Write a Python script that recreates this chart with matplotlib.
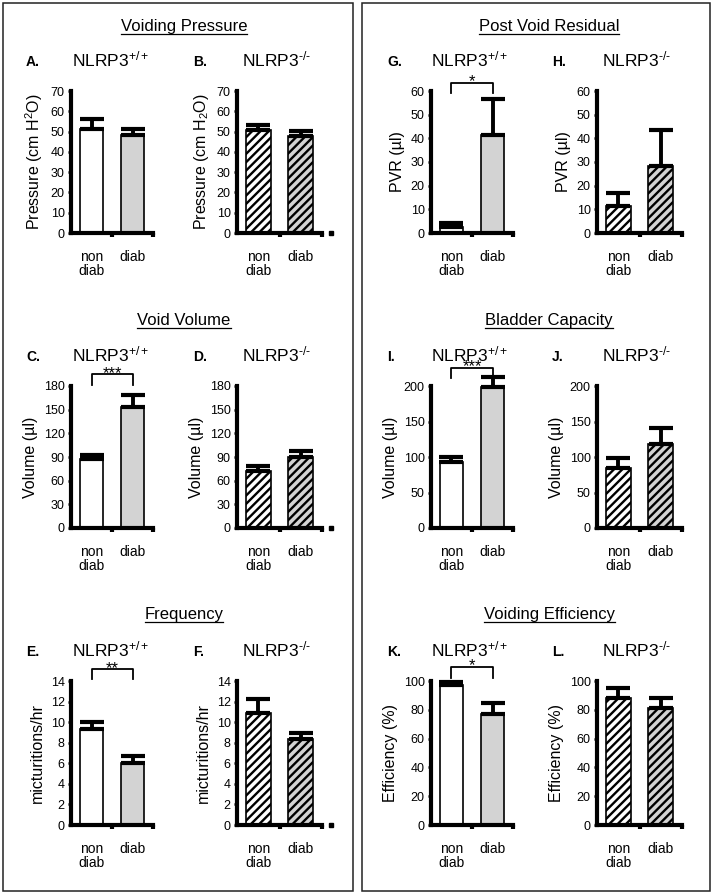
import numpy as np
import matplotlib.pyplot as plt
from matplotlib.lines import Line2D
from matplotlib.patches import Rectangle

plt.rcParams['font.family'] = ['Liberation Sans', 'DejaVu Sans']
plt.rcParams['mathtext.fontset'] = 'custom'
plt.rcParams['mathtext.rm'] = 'Liberation Sans'
plt.rcParams['mathtext.it'] = 'Liberation Sans:italic'
plt.rcParams['mathtext.bf'] = 'Liberation Sans:bold'
plt.rcParams['mathtext.default'] = 'regular'
plt.rcParams['hatch.linewidth'] = 1.7
plt.rcParams['hatch.color'] = 'black'

# ---------- данные ----------
groups = ['non\ndiab', 'diab']
wt_label = 'NLRP3$^{+/+}$'
ko_label = 'NLRP3$^{\\text{-/-}}$'

pressure_wt = [51.5, 48.3]
pressure_wt_err = [4.6, 3.2]
pressure_ko = [50.8, 47.8]
pressure_ko_err = [2.5, 2.5]

volume_wt = [88, 154]
volume_wt_err = [4.5, 14]
volume_ko = [72, 90]
volume_ko_err = [6.5, 7]

freq_wt = [9.3, 6.0]
freq_wt_err = [0.7, 0.7]
freq_ko = [10.9, 8.4]
freq_ko_err = [1.35, 0.5]

pvr_wt = [2.5, 41.2]
pvr_wt_err = [1.6, 15.5]
pvr_ko = [11.3, 28.5]
pvr_ko_err = [5.5, 15.2]

capacity_wt = [93, 198]
capacity_wt_err = [6.5, 14]
capacity_ko = [84, 118]
capacity_ko_err = [14, 23]

eff_wt = [97, 77]
eff_wt_err = [2.5, 7.5]
eff_ko = [88, 81]
eff_ko_err = [7, 7]

# (заголовок раздела, подпись оси Y для WT, для KO, макс Y, шаг)
sections = [
    ('Voiding Pressure', 'Pressure (cm H$^{2}$O)', 'Pressure (cm H$_{2}$O)', 70, 10,
     (pressure_wt, pressure_wt_err), (pressure_ko, pressure_ko_err), 'A.', 'B.'),
    ('Void Volume', 'Volume (µl)', 'Volume (µl)', 180, 30,
     (volume_wt, volume_wt_err), (volume_ko, volume_ko_err), 'C.', 'D.'),
    ('Frequency', 'micturitions/hr', 'micturitions/hr', 14, 2,
     (freq_wt, freq_wt_err), (freq_ko, freq_ko_err), 'E.', 'F.'),
    ('Post Void Residual', 'PVR (µl)', 'PVR (µl)', 60, 10,
     (pvr_wt, pvr_wt_err), (pvr_ko, pvr_ko_err), 'G.', 'H.'),
    ('Bladder Capacity', 'Volume (µl)', 'Volume (µl)', 200, 50,
     (capacity_wt, capacity_wt_err), (capacity_ko, capacity_ko_err), 'I.', 'J.'),
    ('Voiding Efficiency', 'Efficiency (%)', 'Efficiency (%)', 100, 20,
     (eff_wt, eff_wt_err), (eff_ko, eff_ko_err), 'K.', 'L.'),
]

# значимость: панель -> (звёзды, низ скобки, верх скобки)
significance = {
    'C.': ('***', 181, 195),
    'E.': ('**', 14.2, 15.15),
    'G.': ('*', 59, 63.5),
    'I.': ('***', 211, 225.5),
    'K.': ('*', 102, 109.8),
}

bar_colors = ['white', '#d3d3d3']

# ---------- геометрия (в пикселях) ----------
W, H = 713, 894
fig = plt.figure(figsize=(W / 100, H / 100), dpi=100)

col_x = [(71, 153), (237, 322), (431, 513), (597, 682)]
row_y = [(233, 91), (528, 386), (825, 681)]
title_base = [31, 325, 619]
head_base = [66.5, 361, 656]
title_cx = [184, 549]
letter_x = [26, 193, 387, 552]
geno_x = [72, 242, 431, 602]


def fx(px):
    return px / W


def fy(py):
    return 1 - py / H


def draw_panel(ax, vals, errs, ymax, step, ylabel, hatched, dot):
    x = np.arange(len(groups))
    for i in range(len(groups)):
        ax.bar(x[i], vals[i], width=0.58, color=bar_colors[i], edgecolor='black',
               linewidth=1.2, hatch='////' if hatched else None, zorder=1)
    eb = ax.errorbar(x, vals, yerr=[np.zeros(len(vals)), errs], fmt='none', ecolor='black',
                     elinewidth=2.8, capsize=8.6, capthick=3, zorder=2)
    # усы не обрезаем по границе оси (панель I выходит за 200)
    for art in list(eb.lines[1]) + list(eb.lines[2]):
        art.set_clip_on(False)
    ax.set_xlim(-0.5, 1.5)
    ax.set_ylim(0, ymax)
    ax.set_yticks(np.arange(0, ymax + step / 2, step))
    ax.set_xticks(x)
    ax.set_xticklabels(groups, fontsize=10, linespacing=1.05)
    ax.set_xticks([0.5, 1.5], minor=True)
    ax.tick_params(axis='x', which='major', length=0, pad=12)
    ax.tick_params(axis='x', which='minor', length=3, width=3, direction='out')
    ax.tick_params(axis='y', labelsize=9, length=2.5, width=1.8, pad=2)
    for s in ['top', 'right']:
        ax.spines[s].set_visible(False)
    for s in ['left', 'bottom']:
        ax.spines[s].set_linewidth(3)
    ax.set_ylabel(ylabel, fontsize=11.5, labelpad=4)
    ax.patch.set_alpha(0)
    if dot:
        ax.plot([1.71], [0], marker='s', ms=2.8, color='black', clip_on=False)


titles = []
for k, sec in enumerate(sections):
    title, ylab_wt, ylab_ko, ymax, step, wt, ko, let_wt, let_ko = sec
    box = k // 3
    row = k % 3
    y0, y1 = row_y[row]
    for j, (data, ylab, let, gl) in enumerate([(wt, ylab_wt, let_wt, wt_label),
                                                (ko, ylab_ko, let_ko, ko_label)]):
        c = box * 2 + j
        x0, x1 = col_x[c]
        ax = fig.add_axes([fx(x0), fy(y0), fx(x1 - x0), (y0 - y1) / H])
        draw_panel(ax, data[0], data[1], ymax, step, ylab, hatched=(j == 1),
                   dot=(j == 1 and box == 0))
        fig.text(fx(letter_x[c]), fy(head_base[row]), let, fontsize=10,
                 fontweight='bold', va='baseline', ha='left')
        fig.text(fx(geno_x[c]), fy(head_base[row]), gl, fontsize=12.5,
                 va='baseline', ha='left')
        if let in significance:
            stars, lo, hi = significance[let]
            ax.plot([0, 0, 1, 1], [lo, hi, hi, lo], color='black', lw=1.3,
                    clip_on=False, zorder=3)
            ax.annotate(stars, xy=(0.5, hi), xytext=(0, -2.5), textcoords='offset points',
                        ha='center', va='baseline', fontsize=12, annotation_clip=False)
    t = fig.text(fx(title_cx[box]), fy(title_base[row]), title, fontsize=12,
                 ha='center', va='baseline')
    titles.append((t, title_base[row]))

# рамки двух блоков
fig.add_artist(Rectangle((fx(3), fy(891)), fx(350), 888 / H, transform=fig.transFigure,
                         fill=False, edgecolor='#222222', linewidth=1.1))
fig.add_artist(Rectangle((fx(362), fy(891)), fx(348), 888 / H, transform=fig.transFigure,
                         fill=False, edgecolor='#222222', linewidth=1.1))

# подчёркивание заголовков разделов
fig.canvas.draw()
renderer = fig.canvas.get_renderer()
for t, base in titles:
    bb = t.get_window_extent(renderer)
    yline = fy(base + 2.5)
    fig.add_artist(Line2D([bb.x0 / W, bb.x1 / W], [yline, yline],
                          transform=fig.transFigure, color='black', lw=0.9))

fig.savefig('out.png', dpi=100)
